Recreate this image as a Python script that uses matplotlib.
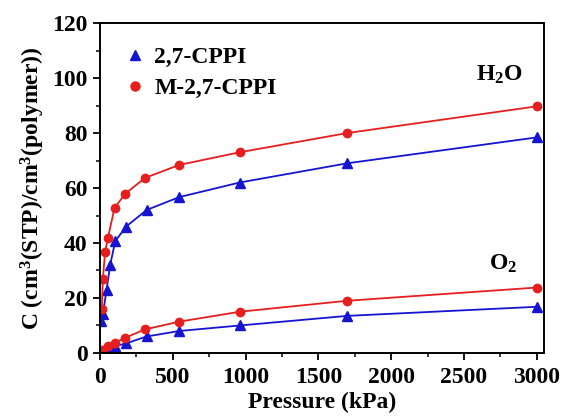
import matplotlib
matplotlib.use("Agg")
import matplotlib.pyplot as plt
from matplotlib.ticker import MultipleLocator
from matplotlib.lines import Line2D

plt.rcParams['font.family'] = ['Liberation Serif', 'DejaVu Serif']
plt.rcParams['font.weight'] = 'bold'
plt.rcParams['mathtext.fontset'] = 'custom'
plt.rcParams['mathtext.rm'] = 'Liberation Serif:bold'
plt.rcParams['mathtext.it'] = 'Liberation Serif:bold'
plt.rcParams['mathtext.bf'] = 'Liberation Serif:bold'

# datos (presion en kPa, C en cm3/cm3)
h2o_azul_x = [8, 20, 45, 70, 105, 180, 320, 545, 960, 1700, 3000]
h2o_azul_y = [11.5, 14, 23, 32, 40.7, 46, 52, 56.7, 62, 69, 78.4]
h2o_rojo_x = [12, 20, 35, 55, 100, 175, 310, 545, 960, 1700, 3000]
h2o_rojo_y = [16, 27, 36.7, 42, 52.8, 58, 63.7, 68.4, 73, 80, 89.7]

o2_azul_x = [10, 30, 70, 105, 180, 320, 545, 960, 1700, 3000]
o2_azul_y = [0.3, 0.8, 1.6, 2.5, 3.5, 6, 8, 10, 13.5, 16.8]
o2_rojo_x = [5, 15, 55, 100, 175, 310, 545, 960, 1700, 3000]
o2_rojo_y = [0.5, 1.2, 2.5, 3.7, 5.6, 8.6, 11.4, 15, 19, 23.8]

azul = '#1414D2'
rojo = '#E61E1E'

fig = plt.figure(figsize=(5.63, 4.17), dpi=100)
ax = fig.add_axes([0.1776, 0.1535, 0.7886, 0.7913])

ax.plot(h2o_azul_x, h2o_azul_y, '-^', color=azul, ms=6.5, lw=1.3)
ax.plot(h2o_rojo_x, h2o_rojo_y, '-o', color=rojo, ms=6, lw=1.3)
ax.plot(o2_azul_x, o2_azul_y, '-^', color=azul, ms=6.5, lw=1.3)
ax.plot(o2_rojo_x, o2_rojo_y, '-o', color=rojo, ms=6, lw=1.3)

ax.set_xlim(0, 3050)
ax.set_ylim(0, 120)
ax.xaxis.set_major_locator(MultipleLocator(500))
ax.xaxis.set_minor_locator(MultipleLocator(250))
ax.yaxis.set_major_locator(MultipleLocator(20))
ax.yaxis.set_minor_locator(MultipleLocator(10))
ax.tick_params(which='major', direction='out', length=5, width=1.3, labelsize=17)
ax.tick_params(axis='x', pad=5)
ax.tick_params(axis='y', pad=4)
ax.tick_params(which='minor', direction='out', length=3, width=1.1)
for s in ax.spines.values():
    s.set_linewidth(1.4)

ax.set_xlabel('Pressure (kPa)', fontsize=17, fontweight='bold', labelpad=3)
ax.set_ylabel(r'C (cm$^3$(STP)/cm$^3$(polymer))', fontsize=17, fontweight='bold', labelpad=4)

ax.text(2740, 101, r'H$_2$O', fontsize=17, fontweight='bold', ha='center', va='center')
ax.text(2770, 32.5, r'O$_2$', fontsize=17, fontweight='bold', ha='center', va='center')

# leyenda solo con marcadores
marcas = [Line2D([], [], ls='none', marker='^', color=azul, ms=7),
          Line2D([], [], ls='none', marker='o', color=rojo, ms=6.5)]
ax.legend(marcas, ['2,7-CPPI', 'M-2,7-CPPI'], loc='upper left', frameon=False,
          handlelength=1.0, handletextpad=0.3, borderaxespad=0.6, labelspacing=0.4,
          prop={'weight': 'bold', 'size': 17})

fig.savefig('out.png', dpi=100)
